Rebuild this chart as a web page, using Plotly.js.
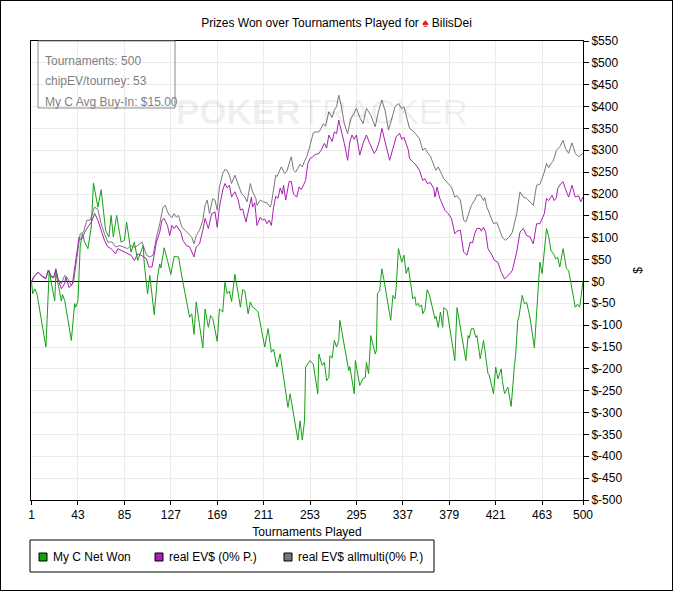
<!DOCTYPE html>
<html>
<head>
<meta charset="utf-8">
<script src="https://cdn.plot.ly/plotly-3.0.1.min.js"></script>
<style>
  body { margin: 0; background: #fff; }
  #prizes-plot { width: 671px; height: 589px; border: 1px solid #000; }
</style>
</head>
<body>
<div id="prizes-plot"></div>
<script>
// Tick labels
var xTicks = [1, 43, 85, 127, 169, 211, 253, 295, 337, 379, 421, 463, 500];
var yTicks = [550, 500, 450, 400, 350, 300, 250, 200, 150, 100, 50, 0, -50, -100, -150, -200, -250, -300, -350, -400, -450, -500];
var yLabels = ['$550', '$500', '$450', '$400', '$350', '$300', '$250', '$200', '$150', '$100', '$50', '$0', '$-50', '$-100', '$-150', '$-200', '$-250', '$-300', '$-350', '$-400', '$-450', '$-500'];

// Legend names
var seriesNames = ['My C Net Won', 'real EV$ (0% P.)', 'real EV$ allmulti(0% P.)'];

// My C Net Won
var netGames = [1, 2, 4, 6, 14, 17, 19, 22, 23, 25, 28, 29, 31, 37, 40, 41, 43, 45, 47, 49, 52, 55, 57, 61, 64, 68, 71, 73, 75, 78, 82, 85, 87, 91, 94, 97, 102, 103, 106, 108, 112, 115, 117, 118, 121, 124, 127, 130, 133, 134, 138, 144, 146, 148, 150, 152, 156, 158, 161, 163, 165, 169, 171, 174, 176, 178, 180, 182, 185, 188, 190, 192, 194, 197, 199, 201, 203, 206, 209, 212, 215, 218, 220, 223, 226, 233, 235, 242, 244, 246, 248, 249, 253, 256, 260, 261, 264, 266, 268, 270, 271, 273, 275, 277, 279, 280, 288, 289, 293, 294, 298, 301, 303, 304, 306, 308, 312, 313, 314, 316, 318, 320, 326, 328, 330, 331, 333, 336, 338, 340, 342, 346, 348, 349, 351, 352, 354, 355, 357, 359, 361, 362, 366, 367, 369, 371, 373, 374, 377, 384, 386, 390, 394, 396, 397, 399, 401, 403, 404, 407, 410, 414, 415, 419, 421, 423, 426, 427, 429, 432, 435, 438, 439, 441, 442, 445, 447, 449, 452, 456, 458, 461, 463, 465, 467, 469, 471, 474, 475, 477, 479, 482, 485, 487, 489, 493, 495, 497, 500];
var netWon = [0, -28, -17, -30, -150, 25, -5, -44, 21, -5, -45, -30, -44, -135, -51, -59, -44, 79, 109, 90, 75, 124, 225, 170, 210, 117, 102, 151, 102, 151, 90, 94, 136, 67, 90, 48, 82, 40, -28, 14, -76, 10, 40, 31, 77, 48, 16, 57, 57, 56, -2, -82, -74, -121, -47, -82, -152, -63, -105, -78, -85, -137, -63, -70, -2, -28, -22, -46, 16, -28, -59, -19, -22, -74, -47, -59, -62, -70, -112, -150, -108, -162, -155, -196, -166, -288, -257, -363, -319, -363, -319, -196, -181, -190, -257, -166, -192, -185, -227, -220, -170, -175, -135, -150, -135, -89, -204, -195, -257, -181, -238, -222, -220, -185, -211, -124, -166, -158, -28, -21, 29, 2, -89, -32, -40, -13, 75, 44, 60, 18, 33, -40, -35, -55, -50, -58, -54, -74, -64, -19, -30, -40, -85, -80, -105, -70, -105, -60, -66, -181, -60, -120, -181, -124, -130, -108, -108, -128, -124, -177, -135, -211, -213, -257, -196, -223, -200, -227, -257, -242, -286, -192, -170, -89, -81, -32, -51, -48, -82, -152, -66, 44, 18, 67, 121, 102, 71, 60, 52, 55, 33, 75, 30, 25, -5, -59, -52, -59, 0];

// real EV$ (0% P.)
var evGames = [1, 3, 7, 11, 14, 16, 19, 21, 23, 25, 28, 31, 32, 35, 38, 41, 44, 46, 48, 50, 53, 56, 58, 61, 64, 67, 70, 73, 77, 79, 82, 85, 88, 91, 94, 97, 100, 105, 107, 110, 114, 117, 119, 121, 124, 126, 128, 130, 132, 134, 136, 138, 141, 144, 148, 150, 153, 156, 158, 161, 164, 167, 169, 171, 174, 176, 178, 180, 182, 185, 188, 190, 192, 195, 197, 200, 201, 203, 205, 208, 210, 212, 214, 216, 218, 220, 222, 224, 226, 228, 229, 231, 234, 236, 238, 241, 243, 245, 247, 249, 251, 253, 255, 257, 261, 263, 266, 268, 270, 273, 275, 277, 279, 281, 284, 287, 289, 291, 293, 295, 298, 301, 304, 307, 311, 313, 316, 318, 320, 322, 325, 328, 331, 334, 336, 338, 340, 342, 343, 346, 349, 352, 355, 357, 359, 362, 365, 366, 368, 370, 372, 375, 378, 381, 384, 386, 389, 392, 395, 398, 400, 402, 404, 407, 408, 410, 412, 414, 417, 420, 423, 426, 429, 431, 434, 436, 440, 443, 446, 449, 452, 455, 458, 461, 465, 467, 469, 472, 474, 476, 477, 480, 482, 484, 487, 490, 493, 496, 498, 500];
var evWon = [0, 11, 21, 10, 6, 25, 10, 8, 29, 5, -17, -5, 10, -14, -5, 48, 101, 95, 105, 117, 128, 140, 156, 140, 117, 94, 79, 75, 63, 75, 71, 67, 63, 60, 48, 63, 60, 52, 33, 33, 90, 113, 140, 144, 128, 105, 128, 121, 128, 121, 113, 94, 82, 79, 56, 79, 86, 117, 144, 121, 155, 159, 124, 170, 209, 224, 214, 220, 193, 205, 186, 163, 166, 136, 159, 193, 170, 180, 128, 147, 140, 143, 132, 140, 128, 170, 195, 190, 214, 200, 220, 186, 228, 229, 200, 193, 216, 210, 220, 231, 270, 281, 284, 289, 293, 300, 316, 305, 335, 320, 342, 338, 369, 350, 316, 277, 319, 335, 325, 335, 289, 316, 335, 316, 293, 300, 323, 350, 330, 308, 277, 304, 331, 339, 325, 330, 316, 300, 281, 273, 266, 254, 231, 235, 224, 226, 212, 193, 216, 193, 182, 163, 155, 144, 109, 115, 117, 67, 60, 90, 88, 109, 121, 121, 115, 124, 112, 75, 63, 48, 44, 21, 6, 10, 18, 25, 67, 113, 121, 105, 102, 86, 132, 132, 155, 190, 185, 197, 185, 192, 212, 224, 228, 212, 193, 220, 193, 196, 182, 193];

// real EV$ allmulti(0% P.)
var multiGames = [1, 4, 7, 11, 14, 16, 19, 21, 23, 25, 28, 31, 33, 37, 39, 42, 45, 48, 51, 54, 58, 61, 64, 67, 70, 74, 77, 81, 85, 88, 91, 94, 97, 101, 105, 108, 111, 114, 117, 120, 122, 124, 126, 128, 130, 132, 134, 137, 140, 143, 146, 148, 150, 153, 156, 158, 160, 162, 165, 167, 169, 171, 174, 176, 178, 180, 182, 185, 188, 191, 194, 196, 199, 201, 204, 205, 208, 211, 214, 217, 218, 220, 222, 223, 225, 227, 230, 232, 235, 236, 238, 240, 244, 246, 248, 250, 252, 254, 256, 258, 261, 263, 265, 267, 270, 273, 275, 277, 279, 281, 284, 287, 290, 293, 295, 298, 301, 304, 308, 312, 315, 318, 321, 324, 327, 330, 333, 336, 338, 340, 343, 346, 349, 352, 355, 357, 359, 362, 365, 367, 369, 371, 374, 378, 381, 384, 386, 389, 392, 394, 396, 399, 402, 404, 407, 410, 411, 413, 416, 419, 422, 425, 427, 430, 433, 436, 440, 443, 446, 449, 452, 455, 458, 461, 465, 467, 469, 471, 473, 476, 479, 482, 484, 487, 490, 493, 496, 500];
var multiWon = [0, 13, 21, 12, 8, 25, 12, 10, 25, 5, -5, 14, 10, -9, -2, 52, 109, 113, 140, 140, 170, 165, 132, 109, 90, 90, 79, 82, 79, 75, 82, 78, 82, 90, 60, 56, 60, 101, 132, 170, 174, 159, 151, 146, 155, 147, 151, 124, 117, 109, 101, 86, 105, 117, 140, 174, 186, 155, 190, 186, 163, 216, 247, 256, 254, 243, 224, 243, 220, 201, 193, 182, 224, 205, 190, 174, 186, 182, 180, 170, 178, 212, 243, 240, 252, 262, 247, 252, 277, 285, 255, 250, 268, 262, 275, 285, 302, 325, 340, 342, 342, 350, 361, 355, 388, 375, 392, 400, 426, 405, 361, 338, 373, 385, 396, 375, 361, 396, 380, 354, 390, 415, 390, 346, 376, 400, 407, 395, 400, 380, 350, 345, 335, 327, 300, 305, 296, 286, 266, 254, 262, 250, 235, 224, 216, 193, 196, 186, 140, 136, 150, 174, 186, 197, 198, 185, 192, 170, 151, 132, 135, 117, 101, 94, 101, 112, 155, 205, 193, 190, 182, 174, 220, 222, 250, 270, 260, 270, 275, 300, 308, 323, 305, 293, 317, 293, 285, 293];

var seriesColors = ['#15a015', '#a81fb3', '#787878'];

function init_prizes_plot( ){
    var multi = {
      x: multiGames,
      y: multiWon,
      type: 'scatter',
      mode: 'lines',
      name: seriesNames[2],
      line: { color: seriesColors[2], width: 1 },
      hoverinfo: 'skip'
    };

    var ev = {
      x: evGames,
      y: evWon,
      type: 'scatter',
      mode: 'lines',
      name: seriesNames[1],
      line: { color: seriesColors[1], width: 1 },
      hoverinfo: 'skip'
    };

    var net = {
      x: netGames,
      y: netWon,
      type: 'scatter',
      mode: 'lines',
      name: seriesNames[0],
      line: { color: seriesColors[0], width: 1 },
      hoverinfo: 'skip'
    };

    var data = [multi, ev, net];

    // Plot area is 552 x 459 px; helpers turn pixels into paper fractions
    var W = 552, H = 459;
    function px(x) { return x / W; }
    function py(y) { return (H - y) / H; }     // y measured down from plot top

    var infoFont = { family: 'Liberation Sans, Arial, sans-serif', size: 12, color: '#7f7f7f' };

    var shapes = [
        // stats box
        { type: 'rect', xref: 'paper', yref: 'paper',
          x0: px(7), x1: px(144), y0: py(67), y1: 1,
          line: { color: '#8a8a8a', width: 1 }, fillcolor: 'rgba(255,255,255,0)' },
        // legend box
        { type: 'rect', xref: 'paper', yref: 'paper',
          x0: px(-1), x1: px(403), y0: py(531), y1: py(499),
          line: { color: '#000', width: 1 }, fillcolor: '#fff' }
    ];

    var annotations = [
        { text: '<b>POKER</b>TRACKER', xref: 'paper', yref: 'paper', x: px(291), y: py(49),
          showarrow: false, font: { family: 'Liberation Sans, sans-serif', size: 35, color: 'rgba(0,0,0,0.065)' } },
        { text: 'Tournaments: 500', xref: 'paper', yref: 'paper', x: px(12), y: py(11),
          xanchor: 'left', showarrow: false, font: infoFont },
        { text: 'chipEV/tourney: 53', xref: 'paper', yref: 'paper', x: px(12), y: py(31),
          xanchor: 'left', showarrow: false, font: infoFont },
        { text: 'My C Avg Buy-In: $15.00', xref: 'paper', yref: 'paper', x: px(12), y: py(52),
          xanchor: 'left', showarrow: false, font: infoFont }
    ];

    // Legend: square swatch + name
    var swatchX = [12, 128, 257];
    var legendY = 516;
    for (var i = 0; i < seriesNames.length; i++) {
        shapes.push({ type: 'rect', xref: 'paper', yref: 'paper',
            x0: px(swatchX[i] - 4), x1: px(swatchX[i] + 4),
            y0: py(legendY + 4), y1: py(legendY - 4),
            line: { color: '#000', width: 1 }, fillcolor: seriesColors[i] });
        annotations.push({ text: seriesNames[i], xref: 'paper', yref: 'paper',
            x: px(swatchX[i] + 8), y: py(legendY), xanchor: 'left', yanchor: 'middle',
            showarrow: false, font: { size: 12, color: '#000' } });
    }

    var layout = {
        width: 671,
        height: 589,
        margin: { l: 30, r: 89, t: 40, b: 90 },
        paper_bgcolor: '#fff',
        plot_bgcolor: '#fff',
        font: { family: 'Liberation Sans, Arial, sans-serif', size: 12, color: '#000' },
        showlegend: false,
        title: {
            text: "Prizes Won over Tournaments Played for <span style='color:#e0201c'>♠</span> BilisDei",
            x: 0.5, xref: 'container',
            y: 1 - 22 / 589, yref: 'container', yanchor: 'middle',
            font: { size: 12, color: '#000' }
        },
        xaxis: {
            range: [0.5, 500],
            tickvals: xTicks,
            ticks: 'outside', ticklen: 4, tickcolor: '#000',
            showline: true, linecolor: '#000', linewidth: 1, mirror: true,
            showgrid: true, gridcolor: '#ebebeb',
            zeroline: false,
            tickfont: { size: 12 },
            title: { text: 'Tournaments Played', standoff: 6, font: { size: 12 } }
        },
        yaxis: {
            side: 'right',
            range: [-500, 550],
            tickvals: yTicks,
            ticktext: yLabels,
            ticks: 'outside', ticklen: 5, tickcolor: '#000',
            showline: true, linecolor: '#000', linewidth: 1, mirror: true,
            showgrid: true, gridcolor: '#ebebeb',
            zeroline: true, zerolinecolor: '#000', zerolinewidth: 1,
            tickfont: { size: 12 },
            title: { text: '$', standoff: 12, font: { size: 12 } }
        },
        shapes: shapes,
        annotations: annotations
    };

    var additional_param = {
        displayModeBar: false,          // No toolbar on the picture
        displaylogo: false
    };

    var prizesPlotDiv = document.getElementById("prizes-plot");
    if(prizesPlotDiv)
    {
        Plotly.newPlot('prizes-plot', data, layout, additional_param);
    }
};

init_prizes_plot();
</script>
</body>
</html>
